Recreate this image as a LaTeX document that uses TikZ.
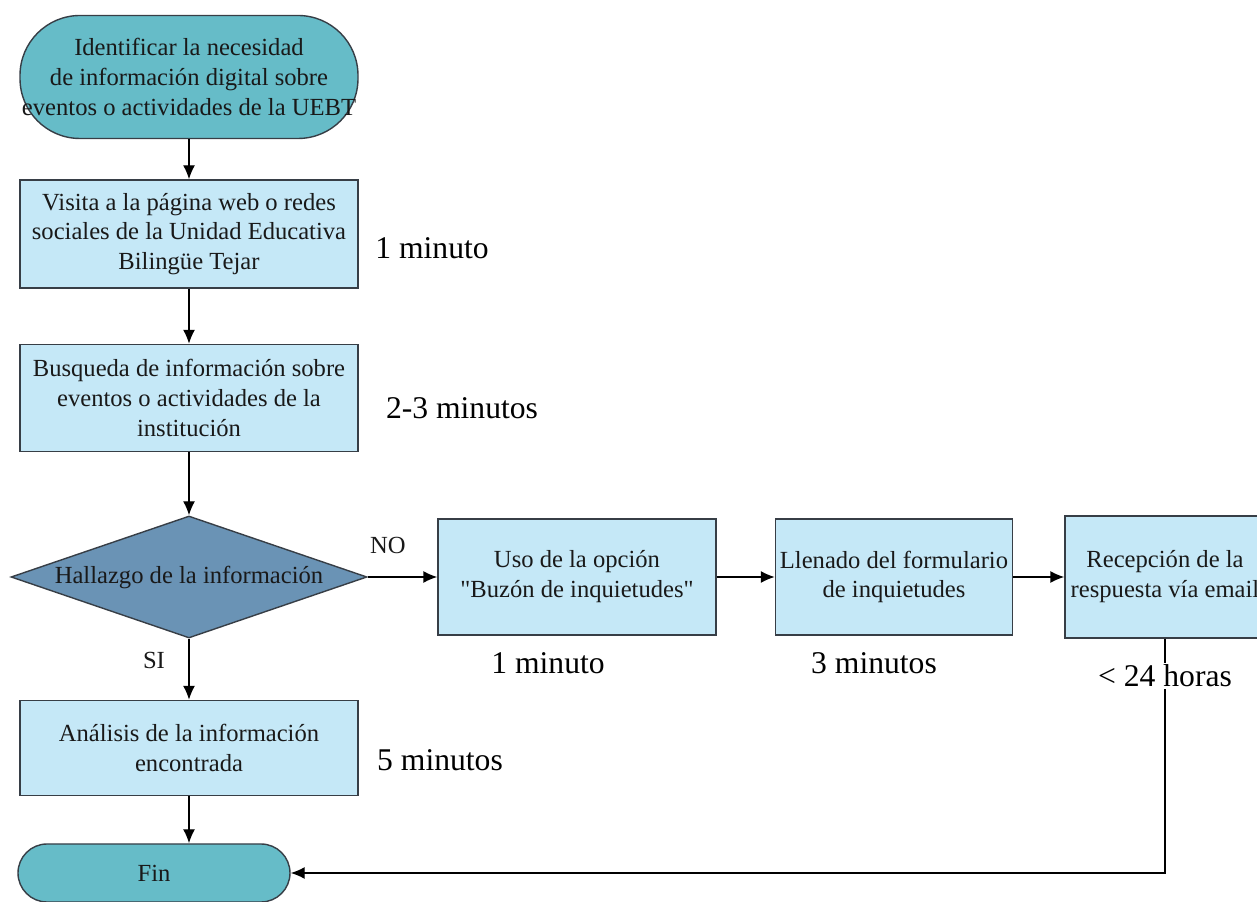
\documentclass[tikz,border=0pt]{standalone}
\usepackage{fontspec}
\setmainfont{Liberation Serif}
\newfontfamily\rectofont{Liberation Serif}
\usetikzlibrary{arrows.meta}
\usetikzlibrary{shapes.geometric}
\usetikzlibrary{positioning}

\definecolor{cTerminal}{RGB}{102,188,200}
\definecolor{cProceso}{RGB}{197,232,247}
\definecolor{cDecision}{RGB}{106,147,181}
\definecolor{cBorde}{RGB}{55,62,70}
\definecolor{cTexto}{RGB}{25,25,25}

\begin{document}
\begin{tikzpicture}[
  terminal/.style={draw=cBorde,line width=0.8pt,fill=cTerminal,rectangle,text=cTexto,align=center,inner sep=0pt,font=\fontsize{14}{17}\selectfont},
  proceso/.style={draw=cBorde,line width=0.8pt,fill=cProceso,rectangle,text=cTexto,align=center,inner sep=0pt,font=\fontsize{14}{17}\selectfont},
  decision/.style={draw=cBorde,line width=0.8pt,fill=cDecision,diamond,aspect=2.9,text=cTexto,inner sep=0pt,font=\fontsize{14}{17}\selectfont},
  tiempo/.style={inner sep=1pt,font=\fontsize{18}{21}\selectfont},
  etiqueta/.style={inner sep=1pt,text=cTexto,font=\fontsize{14}{17}\selectfont},
  flecha/.style={line width=0.8pt,-{Latex[length=0.28cm,width=0.24cm]}}]
  \useasboundingbox (0,0) rectangle (25.14,18.04);
  \clip (0,0) rectangle (25.14,18.04);

  % columna principal
  \node[terminal,minimum width=6.76cm,minimum height=2.46cm,rounded corners=1.2cm] (inicio) at (3.78,16.50)
    {Identificar la necesidad\\de información digital sobre\\eventos o actividades de la UEBT};
  \node[proceso,minimum width=6.76cm,minimum height=2.16cm] (visita) at (3.78,13.36)
    {Visita a la página web o redes\\sociales de la Unidad Educativa\\Bilingüe Tejar};
  \node[proceso,minimum width=6.76cm,minimum height=2.14cm] (busqueda) at (3.78,10.08)
    {Busqueda de información sobre\\eventos o actividades de la\\institución};
  \node[decision,minimum width=7.12cm,minimum height=2.44cm] (hallazgo) at (3.78,6.50)
    {Hallazgo de la información};
  \node[proceso,minimum width=6.76cm,minimum height=1.90cm] (analisis) at (3.78,3.08)
    {Análisis de la información\\encontrada};
  \node[terminal,minimum width=5.44cm,minimum height=1.16cm,rounded corners=0.58cm] (fin) at (3.08,0.58) {Fin};

  % rama NO
  \node[proceso,minimum width=5.56cm,minimum height=2.32cm] (uso) at (11.54,6.50)
    {Uso de la opción\\{\rectofont"}Buzón de inquietudes{\rectofont"}};
  \node[proceso,minimum width=4.74cm,minimum height=2.32cm] (llenado) at (17.88,6.50)
    {Llenado del formulario\\de inquietudes};
  \node[proceso,minimum width=4.00cm,minimum height=2.44cm] (recepcion) at (23.30,6.50)
    {Recepción de la\\respuesta vía email};

  \draw[flecha](inicio)--(visita);
  \draw[flecha](visita)--(busqueda);
  \draw[flecha](busqueda)--(hallazgo);
  \draw[flecha](hallazgo)--(analisis);
  \draw[flecha](analisis.south)--(analisis.south |- fin.north);
  \draw[flecha](hallazgo)--(uso);
  \draw[flecha](uso)--(llenado);
  \draw[flecha](llenado)--(recepcion);
  \draw[flecha](recepcion.south)|-(fin.east);

  \node[etiqueta] (no) at (7.76,7.14) {NO};
  \node[etiqueta] (si) at (3.08,4.84) {SI};

  \node[tiempo] (t1) at (8.64,13.08) {1 minuto};
  \node[tiempo] (t2) at (9.24,9.88) {2-3 minutos};
  \node[tiempo] (t3) at (8.80,2.84) {5 minutos};
  \node[tiempo] (t4) at (10.96,4.78) {1 minuto};
  \node[tiempo] (t5) at (17.48,4.78) {3 minutos};
  \node[tiempo,fill=white] (t6) at (23.30,4.52) {< 24 horas};
\end{tikzpicture}
\end{document}
